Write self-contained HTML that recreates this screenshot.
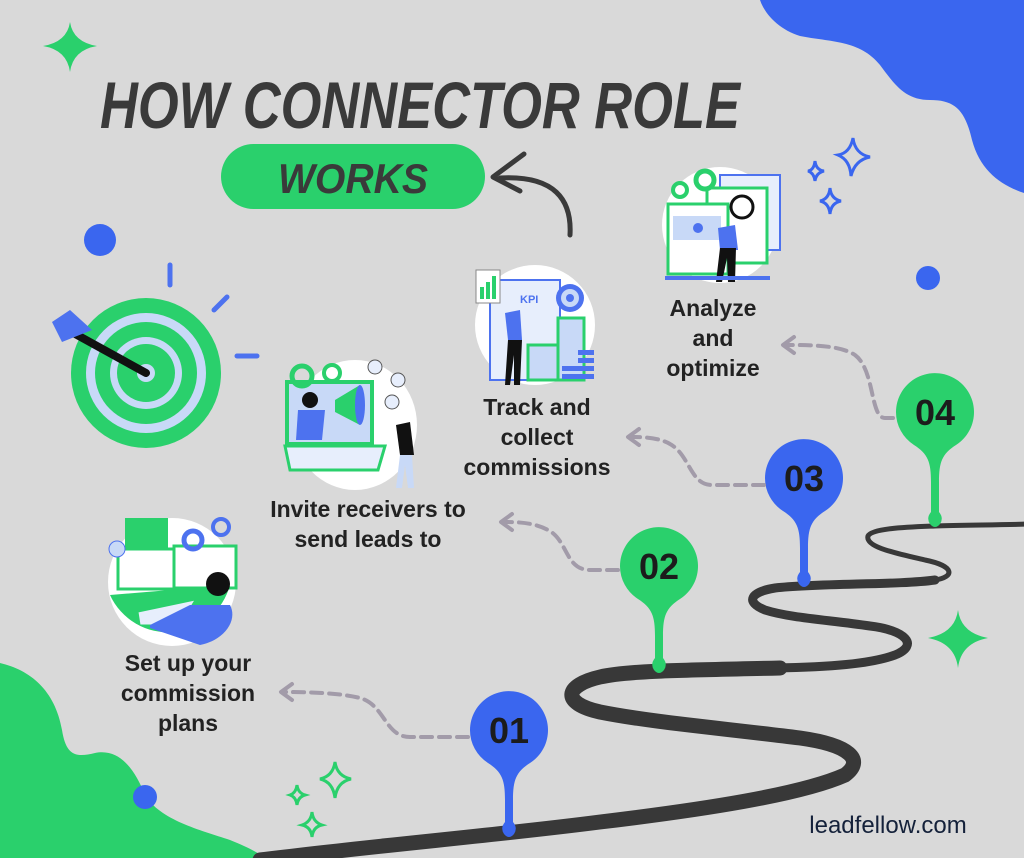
<!DOCTYPE html>
<html><head><meta charset="utf-8"><style>
html,body{margin:0;padding:0;background:#d9d9d9;}
svg{display:block}
.lbl{font-family:"Liberation Sans",sans-serif;font-weight:bold;font-size:23px;fill:#222;text-anchor:middle}
.num{font-family:"Liberation Sans",sans-serif;font-weight:bold;font-size:36px;fill:#1c1c1c;text-anchor:middle}
.dash{fill:none;stroke:#a29ba9;stroke-width:4;stroke-dasharray:11 7;stroke-linecap:round}
.ah{fill:none;stroke:#a29ba9;stroke-width:4;stroke-linecap:round;stroke-linejoin:round}
</style></head><body>
<svg width="1024" height="858" viewBox="0 0 1024 858" xmlns="http://www.w3.org/2000/svg">
<rect width="1024" height="858" fill="#d9d9d9"/>
<!-- blobs -->
<path d="M760,0 L1024,0 L1024,193 C1000,185 980,170 972,140 C965,110 955,100 930,100 C905,100 895,85 880,65 C860,40 830,42 800,36 C780,30 765,15 760,0Z" fill="#3a66ef"/>
<path d="M0,663 C30,670 55,690 62,730 C66,755 75,758 95,753 C120,748 135,770 145,795 C160,820 200,830 230,840 C250,848 262,855 265,858 L0,858Z" fill="#2ad06c"/>
<circle cx="145" cy="797" r="12" fill="#3a66ef"/>
<circle cx="100" cy="240" r="16" fill="#3a66ef"/>
<circle cx="928" cy="278" r="12" fill="#3a66ef"/>
<!-- sparkles -->
<path d="M70,22 Q73,42 97,46 Q73,50 70,72 Q67,50 43,46 Q67,42 70,22Z" fill="#2ad06c"/>
<path d="M958,610 Q961,633 988,638 Q961,643 958,668 Q955,643 928,638 Q955,633 958,610Z" fill="#2ad06c"/>
<g fill="none" stroke="#3a66ef" stroke-width="3">
<path d="M853,138 Q855,154 870,157 Q855,160 851,176 Q850,160 838,155 Q850,153 853,138Z"/>
<path d="M815,161 Q816,170 824,171 Q816,173 815,181 Q814,173 808,171 Q814,170 815,161Z"/>
<path d="M830,188 Q831,199 841,201 Q831,203 830,214 Q829,203 820,201 Q829,199 830,188Z"/>
</g>
<g fill="none" stroke="#2ad06c" stroke-width="3">
<path d="M335,762 Q337,776 351,779 Q337,782 335,798 Q333,782 320,779 Q333,776 335,762Z"/>
<path d="M297,785 Q298,793 305,795 Q298,797 297,805 Q296,797 290,795 Q296,793 297,785Z"/>
<path d="M312,812 Q313,822 322,825 Q313,827 312,837 Q311,827 302,825 Q311,822 312,812Z"/>
</g>
<!-- title -->
<text x="100" y="128" textLength="640" lengthAdjust="spacingAndGlyphs" font-family="Liberation Sans, sans-serif" font-weight="bold" font-style="italic" font-size="66" fill="#3a3a3a">HOW CONNECTOR ROLE</text>
<rect x="221" y="144" width="264" height="65" rx="32.5" fill="#2ad06c"/>
<text x="353" y="193" text-anchor="middle" textLength="150" lengthAdjust="spacingAndGlyphs" font-family="Liberation Sans, sans-serif" font-weight="bold" font-style="italic" font-size="42" fill="#3a3a3a">WORKS</text>
<!-- curved arrow -->
<path d="M570,235 C572,200 555,175 500,178" fill="none" stroke="#3a3a3a" stroke-width="5" stroke-linecap="round"/>
<path d="M524,154 L493,177 L520,191" fill="none" stroke="#3a3a3a" stroke-width="5" stroke-linecap="round" stroke-linejoin="round"/>
<!-- target -->
<circle cx="146" cy="373" r="75" fill="#2ad06c"/>
<circle cx="146" cy="373" r="60" fill="#c8d9f7"/>
<circle cx="146" cy="373" r="51" fill="#2ad06c"/>
<circle cx="146" cy="373" r="36" fill="#c8d9f7"/>
<circle cx="146" cy="373" r="29" fill="#2ad06c"/>
<circle cx="146" cy="373" r="9" fill="#c8d9f7"/>
<line x1="68" y1="330" x2="146" y2="373" stroke="#111" stroke-width="8" stroke-linecap="round"/>
<path d="M70,310 L92,330 L62,342 L52,322Z" fill="#4d72ef"/>
<g stroke="#4d72ef" stroke-width="5" stroke-linecap="round">
<line x1="170" y1="265" x2="170" y2="285"/><line x1="214" y1="310" x2="227" y2="297"/><line x1="237" y1="356" x2="257" y2="356"/></g>
<!-- road -->
<g fill="none" stroke="#383838" stroke-linecap="round">
<path d="M260,860 C380,845 500,835 600,822 C700,810 800,795 845,775 C865,760 850,745 800,738 C720,728 650,722 600,712 C560,703 565,685 600,677 C630,670 700,670 780,668" stroke-width="15"/>
<path d="M775,668 C830,667 870,664 895,655 C920,645 905,630 870,626 C830,620 790,618 765,610 C745,602 750,592 775,588 C820,583 900,585 935,580" stroke-width="9"/>
<path d="M935,580 C955,577 955,566 925,560 C895,553 865,547 868,536 C872,528 910,527 935,526 C960,525 1000,525 1030,524" stroke-width="5"/>
</g>
<!-- pins -->
<g>
<path d="M470,730 A39,39 0 1 1 530,763 C516,772 513,780 513,800 L513,822 Q518,828 514,834 Q509,840 504,834 Q500,828 505,822 L505,800 C505,780 502,772 488,763 A39,39 0 0 1 470,730Z" fill="#3a66ef"/>
<text class="num" x="509" y="743">01</text>
<path d="M620,566 A39,39 0 1 1 680,599 C666,608 663,616 663,636 L663,658 Q668,664 664,670 Q659,676 654,670 Q650,664 655,658 L655,636 C655,616 652,608 638,599 A39,39 0 0 1 620,566Z" fill="#2ad06c"/>
<text class="num" x="659" y="579">02</text>
<path d="M765,478 A39,39 0 1 1 825,511 C811,520 808,528 808,548 L808,572 Q813,578 809,584 Q804,590 799,584 Q795,578 800,572 L800,548 C800,528 797,520 783,511 A39,39 0 0 1 765,478Z" fill="#3a66ef"/>
<text class="num" x="804" y="491">03</text>
<path d="M896,412 A39,39 0 1 1 956,445 C942,454 939,462 939,482 L939,512 Q944,518 940,524 Q935,530 930,524 Q926,518 931,512 L931,482 C931,462 928,454 914,445 A39,39 0 0 1 896,412Z" fill="#2ad06c"/>
<text class="num" x="935" y="425">04</text>
</g>
<!-- dashed connectors -->
<path class="dash" d="M468,737 L410,737 C385,737 385,705 360,698 C340,693 310,692 285,692"/>
<path class="ah" d="M292,684 L281,692 L292,700"/>
<path class="dash" d="M618,570 L590,570 C565,570 568,540 548,530 C535,523 520,522 505,522"/>
<path class="ah" d="M512,514 L501,522 L512,530"/>
<path class="dash" d="M764,485 L712,485 C690,485 690,455 670,444 C660,438 645,437 632,437"/>
<path class="ah" d="M639,429 L628,437 L639,445"/>
<path class="dash" d="M893,418 L885,418 C870,418 875,370 855,355 C840,345 810,345 787,345"/>
<path class="ah" d="M794,337 L783,345 L794,353"/>
<!-- labels -->
<text class="lbl" x="188" y="671">Set up your</text>
<text class="lbl" x="188" y="701">commission</text>
<text class="lbl" x="188" y="731">plans</text>
<text class="lbl" x="368" y="517">Invite receivers to</text>
<text class="lbl" x="368" y="547">send leads to</text>
<text class="lbl" x="537" y="415">Track and</text>
<text class="lbl" x="537" y="445">collect</text>
<text class="lbl" x="537" y="475">commissions</text>
<text class="lbl" x="713" y="316">Analyze</text>
<text class="lbl" x="713" y="346">and</text>
<text class="lbl" x="713" y="376">optimize</text>
<text x="888" y="833" text-anchor="middle" font-family="Liberation Sans, sans-serif" font-size="24" fill="#14213a">leadfellow.com</text>
<!-- illustration: analyze -->
<g>
<ellipse cx="720" cy="225" rx="58" ry="58" fill="#fff"/>
<rect x="720" y="175" width="60" height="75" fill="#e7eefc" stroke="#4d72ef" stroke-width="2"/>
<rect x="707" y="188" width="60" height="75" fill="#fff" stroke="#2ad06c" stroke-width="3"/>
<rect x="668" y="204" width="60" height="70" fill="#fff" stroke="#2ad06c" stroke-width="3"/>
<rect x="673" y="216" width="48" height="24" fill="#c8d9f7"/>
<circle cx="698" cy="228" r="5" fill="#4d72ef"/>
<circle cx="742" cy="207" r="11" fill="none" stroke="#111" stroke-width="3"/>
<circle cx="680" cy="190" r="7" fill="none" stroke="#2ad06c" stroke-width="4"/>
<circle cx="705" cy="180" r="9" fill="none" stroke="#2ad06c" stroke-width="5"/>
<path d="M718,228 L735,225 L738,250 L720,250Z" fill="#4d72ef"/>
<path d="M720,248 L736,248 L735,282 L728,282 L727,258 L722,282 L716,282Z" fill="#111"/>
<rect x="665" y="276" width="105" height="4" fill="#4d72ef"/>
</g>
<!-- illustration: track -->
<g>
<ellipse cx="535" cy="325" rx="60" ry="60" fill="#fff"/>
<rect x="490" y="280" width="70" height="100" fill="#e7eefc" stroke="#4d72ef" stroke-width="2"/>
<text x="520" y="303" font-family="Liberation Sans, sans-serif" font-weight="bold" font-size="11" fill="#4d72ef">KPI</text>
<rect x="476" y="270" width="24" height="33" fill="#fff" stroke="#888" stroke-width="1"/>
<rect x="480" y="287" width="4" height="12" fill="#2ad06c"/><rect x="486" y="282" width="4" height="17" fill="#2ad06c"/><rect x="492" y="276" width="4" height="23" fill="#2ad06c"/>
<circle cx="570" cy="298" r="14" fill="#4d72ef"/><circle cx="570" cy="298" r="9" fill="#c8d9f7"/><circle cx="570" cy="298" r="4" fill="#4d72ef"/>
<rect x="558" y="318" width="26" height="62" fill="#c8d9f7" stroke="#2ad06c" stroke-width="3"/>
<rect x="528" y="345" width="30" height="35" fill="#c8d9f7" stroke="#2ad06c" stroke-width="3"/>
<path d="M505,313 L520,310 L522,340 L508,340Z" fill="#4d72ef"/>
<path d="M508,340 L522,340 L520,385 L514,385 L514,355 L510,385 L505,385Z" fill="#111"/>
<g fill="#4d72ef"><rect x="578" y="350" width="16" height="5"/><rect x="578" y="358" width="16" height="5"/><rect x="578" y="366" width="16" height="5"/><rect x="578" y="374" width="16" height="5"/><rect x="562" y="366" width="16" height="5"/><rect x="562" y="374" width="16" height="5"/></g>
</g>
<!-- illustration: invite -->
<g>
<ellipse cx="355" cy="425" rx="62" ry="65" fill="#fff"/>
<rect x="287" y="382" width="85" height="62" fill="#c8d9f7" stroke="#2ad06c" stroke-width="4"/>
<path d="M285,446 L385,446 L378,470 L290,470Z" fill="#e7eefc" stroke="#2ad06c" stroke-width="3"/>
<circle cx="302" cy="376" r="10" fill="none" stroke="#2ad06c" stroke-width="5"/>
<circle cx="332" cy="373" r="8" fill="none" stroke="#2ad06c" stroke-width="4"/>
<path d="M335,400 L360,385 L360,425 L335,412Z" fill="#2ad06c"/>
<ellipse cx="360" cy="405" rx="5" ry="20" fill="#4d72ef"/>
<path d="M298,410 L325,410 L322,440 L296,440Z" fill="#4d72ef"/>
<circle cx="310" cy="400" r="8" fill="#111"/>
<circle cx="375" cy="367" r="7" fill="#e7eefc" stroke="#555"/><circle cx="398" cy="380" r="7" fill="#e7eefc" stroke="#555"/><circle cx="392" cy="402" r="7" fill="#e7eefc" stroke="#555"/>
<path d="M396,425 L410,422 L414,455 L400,455Z" fill="#111"/>
<path d="M400,455 L412,455 L414,488 L408,488 L405,465 L402,488 L396,488Z" fill="#c8d9f7"/>
</g>
<!-- illustration: setup -->
<g>
<circle cx="172" cy="582" r="64" fill="#fff"/>
<path d="M110,595 L230,585 A64,64 0 0 1 110,595Z" fill="#2ad06c"/>
<rect x="125" y="518" width="43" height="30" fill="#2ad06c"/>
<rect x="118" y="549" width="66" height="40" fill="#fff" stroke="#2ad06c" stroke-width="3"/>
<rect x="174" y="546" width="62" height="42" fill="#fff" stroke="#2ad06c" stroke-width="3"/>
<circle cx="193" cy="540" r="9" fill="none" stroke="#4d72ef" stroke-width="5"/>
<circle cx="221" cy="527" r="8" fill="none" stroke="#4d72ef" stroke-width="4"/>
<circle cx="117" cy="549" r="8" fill="#c8d9f7" stroke="#4d72ef"/>
<path d="M138,612 L195,600 L180,625 L140,625Z" fill="#e7eefc" stroke="#2ad06c"/>
<path d="M150,625 L190,605 L230,605 C238,620 225,640 200,645 L150,628Z" fill="#4d72ef"/>
<circle cx="218" cy="584" r="12" fill="#111"/>
</g>
</svg>
</body></html>
